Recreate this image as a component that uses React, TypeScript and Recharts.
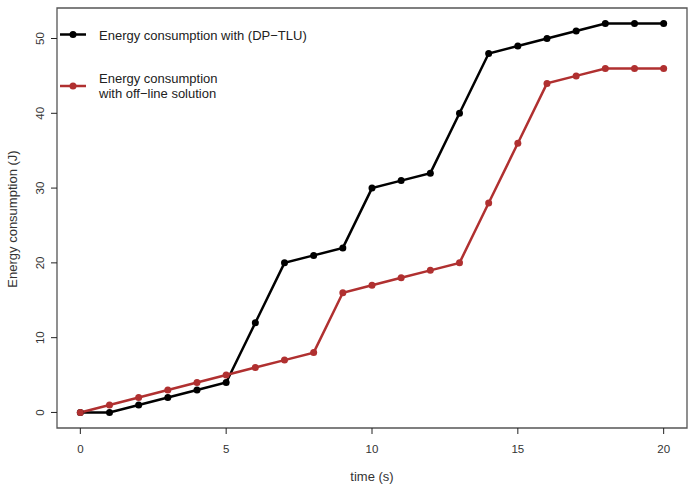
import React from 'react';
import { LineChart, Line, XAxis, YAxis, ReferenceArea } from 'recharts';

const times = [0, 1, 2, 3, 4, 5, 6, 7, 8, 9, 10, 11, 12, 13, 14, 15, 16, 17, 18, 19, 20];
const dpTlu = [0, 0, 1, 2, 3, 4, 12, 20, 21, 22, 30, 31, 32, 40, 48, 49, 50, 51, 52, 52, 52];
const offline = [0, 1, 2, 3, 4, 5, 6, 7, 8, 16, 17, 18, 19, 20, 28, 36, 44, 45, 46, 46, 46];
const xTicks = [0, 5, 10, 15, 20];
const yTicks = [0, 10, 20, 30, 40, 50];

const data = times.map((t, i) => ({ t, a: dpTlu[i], b: offline[i] }));

const BLACK = '#000000';
const RED = '#B03030';
const FONT = 'Liberation Sans, Arial, Helvetica, sans-serif';
const TEXT = '#333';

const YTick = (props: any) => {
  const { y, payload } = props;
  const bx = 44;
  return (
    <text x={bx} y={y} transform={`rotate(-90 ${bx} ${y})`} textAnchor="middle" fontSize={11.5} fill={TEXT} fontFamily={FONT}>
      {payload.value}
    </text>
  );
};

const XTick = (props: any) => {
  const { x, payload } = props;
  return (
    <text x={x} y={453} textAnchor="middle" fontSize={11.5} fill={TEXT} fontFamily={FONT}>
      {payload.value}
    </text>
  );
};

const LegendBox = () => (
  <svg width={689} height={487} style={{ display: 'block' }}>
    <line x1={60} y1={34.5} x2={86} y2={34.5} stroke={BLACK} strokeWidth={2.5} />
    <circle cx={73} cy={34.5} r={3.5} fill={BLACK} />
    <text x={99} y={40} fontSize={13} fill="#222" fontFamily={FONT}>Energy consumption with (DP−TLU)</text>
    <line x1={60} y1={86} x2={86} y2={86} stroke={RED} strokeWidth={2.5} />
    <circle cx={73} cy={86} r={3.5} fill={RED} />
    <text x={99} y={83} fontSize={13} fill="#222" fontFamily={FONT}>Energy consumption</text>
    <text x={99} y={98} fontSize={13} fill="#222" fontFamily={FONT}>with off−line solution</text>
  </svg>
);

export default function App() {
  return (
    <div style={{ position: 'absolute', left: 0, top: 0, width: 689, height: 487, background: '#fff' }}>
      <LineChart width={689} height={487} data={data} margin={{ top: 8, right: 2, bottom: 0, left: 0 }}>
        <XAxis
          dataKey="t"
          type="number"
          domain={[-0.8, 20.8]}
          ticks={xTicks}
          axisLine={false}
          tickLine={{ stroke: '#222', strokeWidth: 1 }}
          tickSize={6}
          tick={<XTick />}
          height={59}
          label={{
            content: () => (
              <text x={372} y={481} textAnchor="middle" fontSize={13} fill={TEXT} fontFamily={FONT}>time (s)</text>
            ),
          }}
        />
        <YAxis
          type="number"
          domain={[-2.08, 54.08]}
          ticks={yTicks}
          axisLine={false}
          tickLine={{ stroke: '#222', strokeWidth: 1 }}
          tickSize={6}
          tick={<YTick />}
          width={57}
          label={{
            content: () => (
              <text x={17} y={219} transform="rotate(-90 17 219)" textAnchor="middle" fontSize={13} fill={TEXT} fontFamily={FONT}>
                Energy consumption (J)
              </text>
            ),
          }}
        />
        <ReferenceArea x1={-0.8} x2={20.8} y1={-2.08} y2={54.08} fill="none" stroke="#555" strokeWidth={1.3} ifOverflow="visible" />
        <Line type="linear" dataKey="a" stroke={BLACK} strokeWidth={2.5} dot={{ r: 3.5, fill: BLACK, stroke: BLACK, strokeWidth: 0 }} isAnimationActive={false} />
        <Line type="linear" dataKey="b" stroke={RED} strokeWidth={2.5} dot={{ r: 3.5, fill: RED, stroke: RED, strokeWidth: 0 }} isAnimationActive={false} />
      </LineChart>
      <div style={{ position: 'absolute', left: 0, top: 0, pointerEvents: 'none' }}>
        <LegendBox />
      </div>
    </div>
  );
}
